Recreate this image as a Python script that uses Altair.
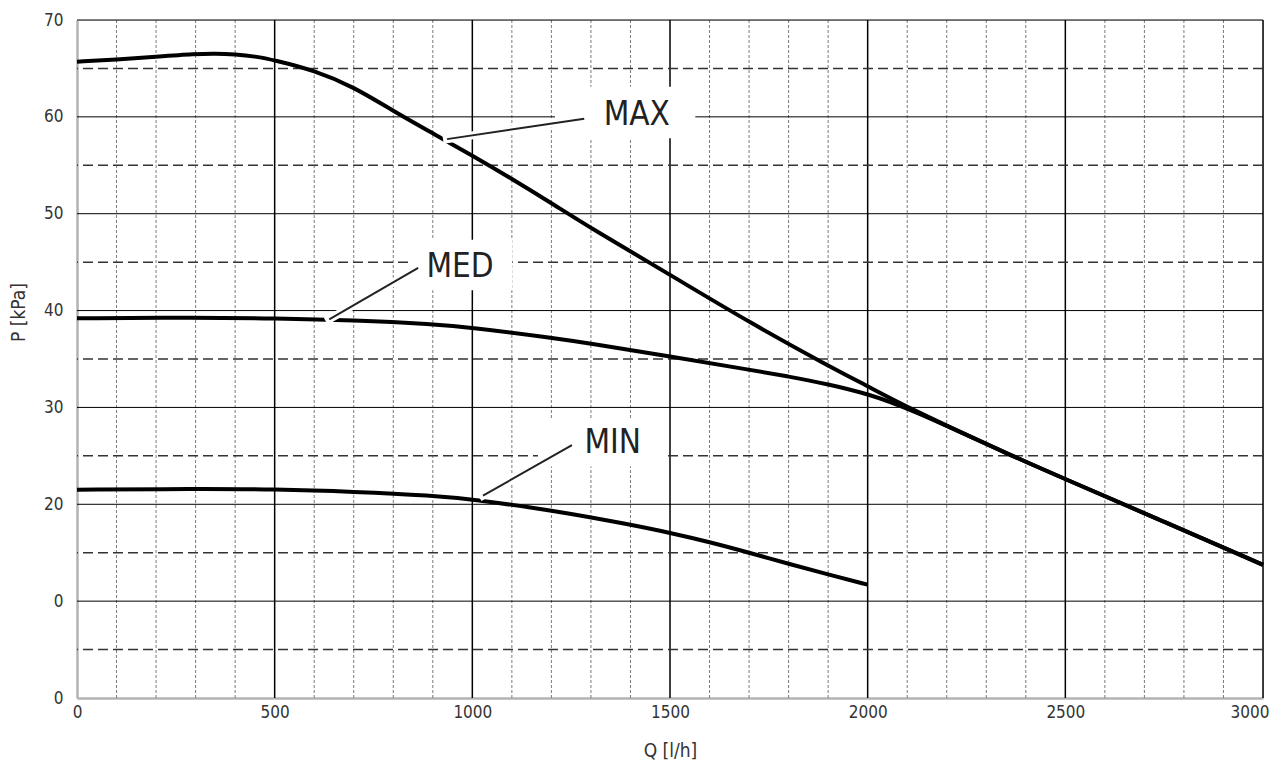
import altair as alt
import pandas as pd

# ---- curve data (Q [l/h], P [kPa]) ----
max_q = [0, 100, 200, 300, 350, 400, 450, 500, 600, 700, 800, 900, 1000, 1100, 1200, 1300,
         1500, 1700, 1900, 2000, 2100, 2370, 2500, 2750, 3000]
max_p = [65.7, 65.9, 66.2, 66.5, 66.55, 66.45, 66.25, 65.85, 64.8, 63.1, 60.6, 58.3, 56.0, 53.6,
         51.1, 48.5, 43.7, 38.8, 34.3, 32.2, 30.0, 24.9, 22.6, 18.2, 13.75]

med_q = [0, 300, 500, 700, 900, 1000, 1200, 1300, 1500, 1700, 1800, 1900, 2000, 2100,
         2370, 2500, 2750, 3000]
med_p = [39.2, 39.3, 39.2, 39.0, 38.6, 38.25, 37.2, 36.6, 35.25, 33.9, 33.2, 32.4, 31.4, 30.0,
         24.9, 22.6, 18.2, 13.75]

min_q = [0, 300, 500, 700, 900, 1000, 1200, 1400, 1500, 1600, 1700, 1800, 1900, 2000]
min_p = [21.5, 21.6, 21.55, 21.3, 20.9, 20.5, 19.4, 17.9, 17.05, 16.1, 15.0, 13.85, 12.75, 11.7]

# ---- axis tick values ----
x_ticks = [0, 500, 1000, 1500, 2000, 2500, 3000]
y_ticks = [0, 10, 20, 30, 40, 50, 60, 70]

# ---- grid positions ----
x_major = [500, 1000, 1500, 2000, 2500, 3000]
x_minor = [100, 200, 300, 400, 600, 700, 800, 900, 1100, 1200, 1300, 1400,
           1600, 1700, 1800, 1900, 2100, 2200, 2300, 2400, 2600, 2700, 2800, 2900]
y_major = [10, 20, 30, 40, 50, 60, 70]
y_half = [5, 15, 25, 35, 45, 55, 65]

# ---- annotations ----
lab_text = ["MAX", "MED", "MIN"]
lab_q = [1416, 969, 1355]
lab_p = [59.15, 43.5, 25.3]
box_q0 = [1209, 843, 1166]
box_q1 = [1564, 1101, 1483]
box_p0 = [57.8, 42.1, 23.9]
box_p1 = [63.1, 47.3, 28.7]
lead_q0 = [1283, 863, 1252]
lead_p0 = [59.8, 44.4, 26.1]
lead_q1 = [936, 638, 1027]
lead_p1 = [57.7, 39.1, 20.9]

FONT = "Liberation Sans Narrow, Arial Narrow, DejaVu Sans Condensed, sans-serif"

curves = pd.DataFrame(
    [{"series": "MAX", "q": q, "p": p} for q, p in zip(max_q, max_p)]
    + [{"series": "MED", "q": q, "p": p} for q, p in zip(med_q, med_p)]
    + [{"series": "MIN", "q": q, "p": p} for q, p in zip(min_q, min_p)]
)
ann = pd.DataFrame({
    "text": lab_text, "q": lab_q, "p": lab_p,
    "bq0": box_q0, "bq1": box_q1, "bp0": box_p0, "bp1": box_p1,
    "lq0": lead_q0, "lp0": lead_p0, "lq1": lead_q1, "lp1": lead_p1,
})

xscale = alt.Scale(domain=[0, 3000], nice=False, zero=False)
yscale = alt.Scale(domain=[0, 70], nice=False, zero=False)

xaxis = alt.Axis(
    values=x_ticks, grid=False, ticks=False, domainColor="#b3b3b3", domainWidth=2.5,
    format="d",
    labelFont=FONT, labelFontSize=17, labelColor="#333333", labelPadding=6,
    labelFlush=False,
    labelAlign=alt.ConditionalAxisLabelAlign(
        condition={"test": "datum.value == 3000", "value": "right"}, value="center"
    ),
    labelOffset=alt.ConditionalAxisNumber(
        condition={"test": "datum.value == 3000", "value": 6}, value=0
    ),
    title="Q [l/h]", titleFont=FONT, titleFontSize=19,
    titleFontWeight="normal", titleColor="#333333", titleY=52, titleBaseline="middle",
)
yaxis = alt.Axis(
    values=y_ticks, grid=False, ticks=False, domainColor="#b3b3b3", domainWidth=2.5,
    labelFont=FONT, labelFontSize=17, labelColor="#333333", labelPadding=14,
    labelExpr="datum.value == 10 ? '0' : datum.label",
    title="P [kPa]", titleFont=FONT, titleFontSize=19, titleFontWeight="normal",
    titleColor="#333333", titleAngle=270, titleX=-59, titleY=292,
    titleAlign="center", titleBaseline="middle",
)

def X(field):
    return alt.X(field, type="quantitative", scale=xscale, axis=xaxis)

def Y(field):
    return alt.Y(field, type="quantitative", scale=yscale, axis=yaxis)

minor_v = alt.Chart(pd.DataFrame({"q": x_minor})).mark_rule(
    color="#7a7a7a", strokeWidth=1, strokeDash=[3, 2]
).encode(x=X("q"))
major_v = alt.Chart(pd.DataFrame({"q": x_major})).mark_rule(
    color="#000000", strokeWidth=1.5
).encode(x=X("q"))
half_h = alt.Chart(pd.DataFrame({"p": y_half})).mark_rule(
    color="#333333", strokeWidth=1.5, strokeDash=[10, 5]
).encode(y=Y("p"))
major_h = alt.Chart(pd.DataFrame({"p": y_major})).mark_rule(
    color="#000000", strokeWidth=1
).encode(y=Y("p"))

boxes = alt.Chart(ann).mark_rect(color="white").encode(
    x=X("bq0"), x2="bq1", y=Y("bp0"), y2="bp1"
)

lines = alt.Chart(curves).mark_line(
    color="black", strokeWidth=4, interpolate="basis", strokeCap="butt"
).encode(x=X("q"), y=Y("p"), detail="series:N")

halo = alt.Chart(ann).mark_rule(color="white", strokeWidth=8, strokeCap="square").encode(
    x=X("lq0"), y=Y("lp0"), x2="lq1", y2="lp1"
)
leader = alt.Chart(ann).mark_rule(color="#222222", strokeWidth=2).encode(
    x=X("lq0"), y=Y("lp0"), x2="lq1", y2="lp1"
)
labels = alt.Chart(ann).mark_text(
    font=FONT, fontSize=33, color="#222222", align="center", baseline="alphabetic"
).encode(x=X("q"), y=Y("p"), text="text:N")

chart = alt.layer(
    minor_v, major_v, half_h, major_h, boxes, lines, halo, leader, labels
).properties(
    width=1186, height=678,
    autosize=alt.AutoSizeParams(type="none"),
    padding={"left": 69, "top": 12, "right": 7, "bottom": 70},
).configure_view(strokeWidth=0).configure(background="white")

chart.save("out.html", embed_options={"renderer": "svg", "actions": False})
